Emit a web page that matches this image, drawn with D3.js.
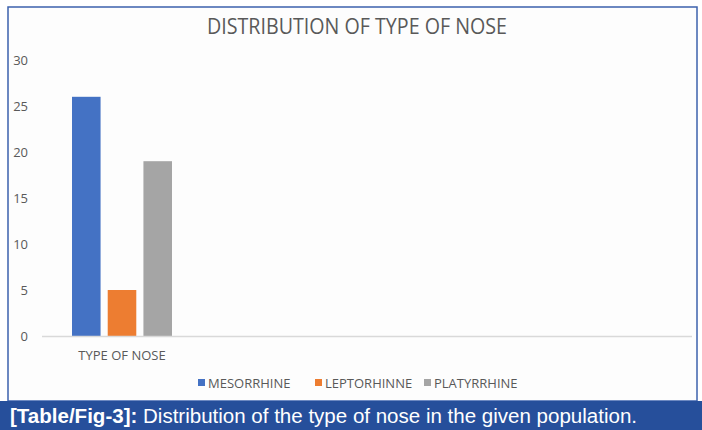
<!DOCTYPE html>
<html>
<head>
<meta charset="utf-8">
<script src="https://cdn.jsdelivr.net/npm/d3@7"></script>
<style>
  body { margin: 0; background: #ffffff; }
  svg { display: block; }
</style>
</head>
<body>
<svg id="chart" width="702" height="430"></svg>
<script>
// data
const categories = ["TYPE OF NOSE"];
const seriesNames = ["MESORRHINE", "LEPTORHINNE", "PLATYRRHINE"];
const seriesValues = [26, 5, 19];
const yTicks = [0, 5, 10, 15, 20, 25, 30];
const colors = ["#4472c4", "#ed7d31", "#a5a5a5"];

const svg = d3.select("#chart");
const W = 702, H = 430;
const captionTop = 401;

// frame
svg.append("rect")
    .attr("x", 8).attr("y", 7)
    .attr("width", 689).attr("height", captionTop - 7)
    .attr("fill", "#fdfdfd")
    .attr("stroke", "#3d62ad")
    .attr("stroke-width", 1.5);

// caption bar
svg.append("rect")
    .attr("x", 0).attr("y", captionTop)
    .attr("width", W).attr("height", H - captionTop)
    .attr("fill", "#264f9b");

const cap = svg.append("text")
    .attr("x", 10).attr("y", 423)
    .attr("fill", "#ffffff")
    .attr("textLength", 627)
    .attr("lengthAdjust", "spacingAndGlyphs")
    .style("font-family", "'Liberation Sans', Arial, sans-serif")
    .style("font-size", "20px");
cap.append("tspan").attr("font-weight", "bold").text("[Table/Fig-3]:");
cap.append("tspan").text(" Distribution of the type of nose in the given population.");

// title
svg.append("text")
    .attr("x", 357).attr("y", 34)
    .attr("text-anchor", "middle")
    .attr("fill", "#595959")
    .attr("textLength", 300)
    .attr("lengthAdjust", "spacingAndGlyphs")
    .style("font-family", "'Open Sans', sans-serif")
    .style("font-size", "22px")
    .text("DISTRIBUTION OF TYPE OF NOSE");

// scales
const y = d3.scaleLinear().domain([0, 30]).range([336, 60]);
const x0 = d3.scaleBand().domain(categories).range([42, 202]);
const x1 = d3.scaleBand().domain(seriesNames).range([30, 130]).paddingInner(0.2);

// y labels
svg.append("g").selectAll("text")
    .data(yTicks)
    .join("text")
    .attr("x", 28)
    .attr("y", d => y(d))
    .attr("dy", "0.35em")
    .attr("text-anchor", "end")
    .attr("fill", "#595959")
    .style("font-family", "'Open Sans', sans-serif")
    .style("font-size", "13px")
    .text(d => d);

// bars
const grp = svg.append("g").selectAll("g")
    .data(categories)
    .join("g")
    .attr("transform", d => `translate(${x0(d)},0)`);

grp.selectAll("rect")
    .data(seriesNames.map((s, i) => ({ name: s, value: seriesValues[i], color: colors[i] })))
    .join("rect")
    .attr("x", d => x1(d.name))
    .attr("y", d => y(d.value))
    .attr("width", x1.bandwidth())
    .attr("height", d => y(0) - y(d.value))
    .attr("fill", d => d.color);

// baseline
svg.append("line")
    .attr("x1", 42).attr("x2", 692)
    .attr("y1", y(0) + 0.5).attr("y2", y(0) + 0.5)
    .attr("stroke", "#d9d9d9")
    .attr("stroke-width", 1.5);

// category label
svg.append("g").selectAll("text")
    .data(categories)
    .join("text")
    .attr("x", d => x0(d) + x0.bandwidth() / 2)
    .attr("y", 360)
    .attr("text-anchor", "middle")
    .attr("fill", "#595959")
    .style("font-family", "'Open Sans', sans-serif")
    .style("font-size", "13px")
    .text(d => d);

// legend
const legendX = [198, 315, 424];
const leg = svg.append("g").selectAll("g")
    .data(seriesNames)
    .join("g")
    .attr("transform", (d, i) => `translate(${legendX[i]},383)`);

leg.append("rect")
    .attr("x", 0).attr("y", -4)
    .attr("width", 7).attr("height", 7)
    .attr("fill", (d, i) => colors[i]);

leg.append("text")
    .attr("x", 10).attr("y", 0)
    .attr("dy", "0.35em")
    .attr("fill", "#595959")
    .style("font-family", "'Open Sans', sans-serif")
    .style("font-size", "13px")
    .text(d => d);
</script>
</body>
</html>
